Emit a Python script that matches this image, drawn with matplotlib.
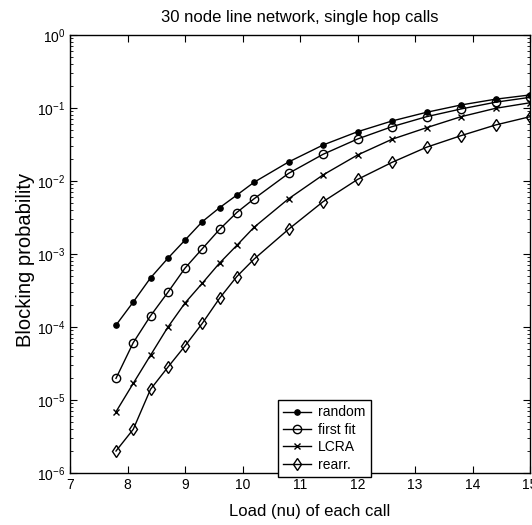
import numpy as np
import matplotlib
matplotlib.use('Agg')
import matplotlib.pyplot as plt
from matplotlib.ticker import LogLocator, FixedLocator

plt.rcParams['font.family'] = ['Liberation Sans', 'DejaVu Sans']
plt.rcParams['mathtext.fontset'] = 'custom'
plt.rcParams['mathtext.rm'] = 'Liberation Sans'

# load values (nu)
load = [7.8, 8.1, 8.4, 8.7, 9.0, 9.3, 9.6, 9.9, 10.2,
        10.8, 11.4, 12.0, 12.6, 13.2, 13.8, 14.4, 15.0]

# blocking probability per algorithm
p_random = [1.06e-4, 2.2e-4, 4.7e-4, 8.7e-4, 1.55e-3, 2.77e-3, 4.3e-3, 6.4e-3, 9.6e-3,
            0.0182, 0.0311, 0.0473, 0.0664, 0.0873, 0.110, 0.132, 0.151]
p_firstfit = [1.98e-5, 6.1e-5, 1.42e-4, 2.97e-4, 6.4e-4, 1.18e-3, 2.17e-3, 3.7e-3, 5.7e-3,
              0.0127, 0.0232, 0.0376, 0.0555, 0.076, 0.097, 0.120, 0.140]
p_lcra = [6.9e-6, 1.69e-5, 4.1e-5, 9.9e-5, 2.13e-4, 3.97e-4, 7.5e-4, 1.31e-3, 2.32e-3,
          5.7e-3, 0.0121, 0.0227, 0.0373, 0.0537, 0.076, 0.099, 0.118]
p_rearr = [2.0e-6, 3.97e-6, 1.40e-5, 2.8e-5, 5.5e-5, 1.12e-4, 2.47e-4, 4.9e-4, 8.5e-4,
           2.18e-3, 5.2e-3, 0.0105, 0.018, 0.029, 0.0418, 0.0585, 0.076]

labels = ['random', 'first fit', 'LCRA', 'rearr.']

fig = plt.figure(figsize=(5.32, 5.25), dpi=100)
ax = fig.add_axes([70/532, 1-473/525, 460/532, 438/525])

k = 'black'
ax.semilogy(load, p_random, '-', color=k, lw=1, marker='o', ms=3.8, mfc=k, mec=k, label=labels[0])
ax.semilogy(load, p_firstfit, '-', color=k, lw=1, marker='o', ms=6, mfc='none', mec=k, label=labels[1])
ax.semilogy(load, p_lcra, '-', color=k, lw=1, marker='x', ms=5, mec=k, label=labels[2])
ax.semilogy(load, p_rearr, '-', color=k, lw=1, marker='d', ms=6, mfc='none', mec=k, label=labels[3])

ax.set_xlim(7, 15)
ax.set_ylim(1e-6, 1)
ax.xaxis.set_major_locator(FixedLocator(range(7, 16)))
ax.yaxis.set_major_locator(LogLocator(base=10, numticks=10))
ax.yaxis.set_minor_locator(LogLocator(base=10, subs=np.arange(2, 10), numticks=10))
ax.tick_params(which='both', direction='in', top=True, right=True, labelsize=10)
ax.tick_params(which='major', length=5)
ax.tick_params(which='minor', length=2.5)
for s in ax.spines.values():
    s.set_linewidth(1)

ax.set_title('30 node line network, single hop calls', fontsize=12, pad=9.5)
ax.set_xlabel('Load (nu) of each call', fontsize=12)
ax.xaxis.set_label_coords(0.522, -0.071)
ax.set_ylabel('Blocking probability', fontsize=14.5)
ax.yaxis.set_label_coords(-0.076, 0.486)

leg = ax.legend(loc='lower left', bbox_to_anchor=(0.452, -0.01), fontsize=10,
                fancybox=False, edgecolor='black', framealpha=1,
                handlelength=2.0, borderaxespad=0, labelspacing=0.25,
                handletextpad=0.5, borderpad=0.4)
leg.get_frame().set_linewidth(1)

fig.savefig('out.png', dpi=100)
